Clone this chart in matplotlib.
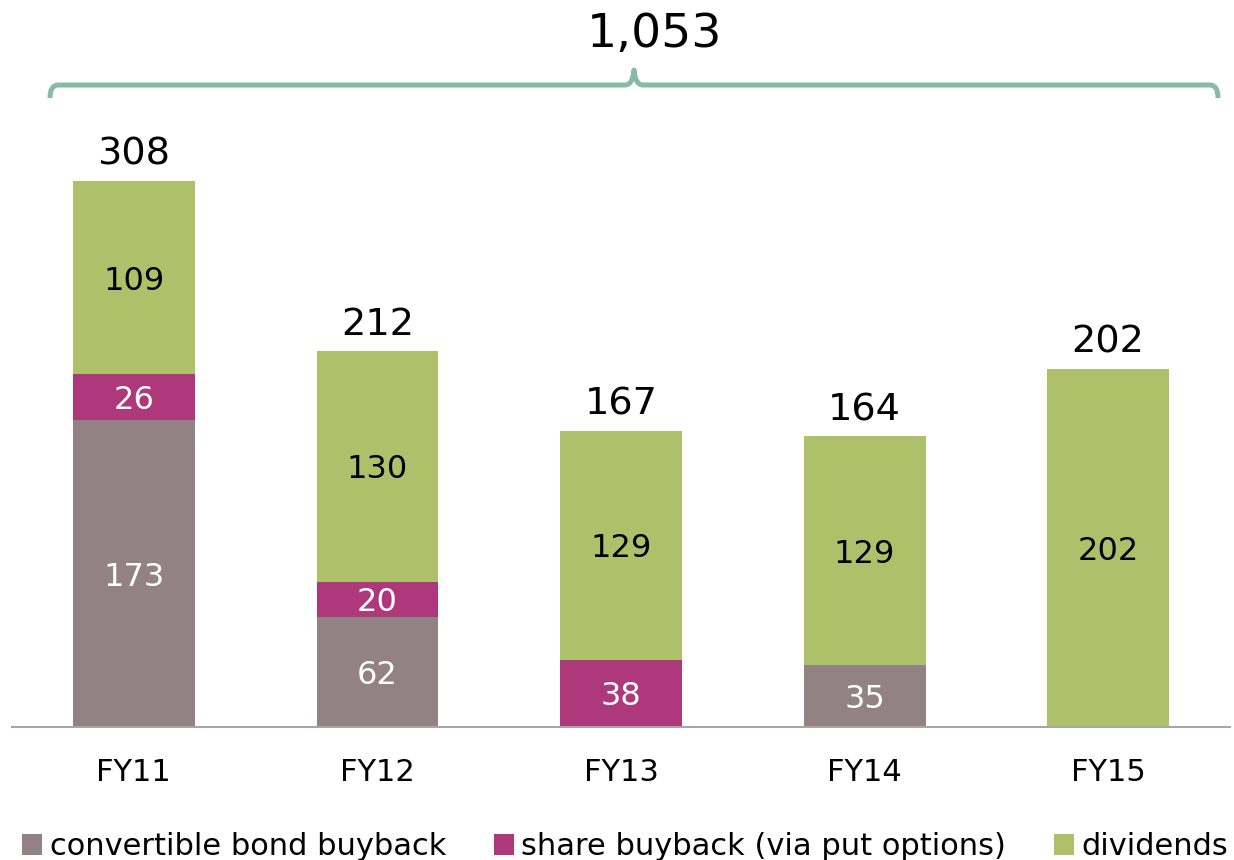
import matplotlib
matplotlib.use("Agg")
import matplotlib.pyplot as plt
from matplotlib.path import Path
from matplotlib.patches import PathPatch
import numpy as np

categories = ["FY11", "FY12", "FY13", "FY14", "FY15"]
convertible = [173, 62, 0, 35, 0]
share = [26, 20, 38, 0, 0]
dividends = [109, 130, 129, 129, 202]
grand_total_label = "1,053"
series_names = ["convertible bond buyback", "share buyback (via put options)", "dividends"]

colors = ["#938284", "#ad387b", "#afc06a"]
text_colors = ["white", "white", "black"]

plt.rcParams['font.family'] = ['DejaVu Sans']

W, H = 1234, 860
fig = plt.figure(figsize=(W / 100, H / 100), dpi=100)
ax = fig.add_axes([12 / W, 133 / H, 1218 / W, 727 / H])

x = np.arange(len(categories))
series = [convertible, share, dividends]
bottom = np.zeros(len(categories))
handles = []
for vals, col, tcol, name in zip(series, colors, text_colors, series_names):
    vals = np.array(vals, dtype=float)
    bars = ax.bar(x, vals, width=0.5, bottom=bottom, color=col, label=name)
    handles.append(bars)
    for xi, v, b in zip(x, vals, bottom):
        if v > 0:
            ax.text(xi, b + v / 2, f"{int(v)}", ha="center", va="center_baseline",
                    color=tcol, fontsize=23)
    bottom = bottom + vals

for xi, t in zip(x, bottom):
    ax.annotate(f"{int(t)}", (xi, t), xytext=(0, 11.5), textcoords="offset points",
                ha="center", va="baseline", fontsize=27.5, color="black")

ax.set_xlim(-0.5, len(categories) - 0.5)
ax.set_ylim(0, 410)
ax.set_xticks(x)
ax.set_xticklabels(categories, fontsize=22)
ax.tick_params(axis="x", length=0, pad=22)
ax.set_yticks([])
for s in ["left", "right", "top"]:
    ax.spines[s].set_visible(False)
ax.spines["bottom"].set_color("#a6a6a6")
ax.spines["bottom"].set_linewidth(1.5)
ax.patch.set_alpha(0)

# brace (figure pixel coordinates, y measured from top)
def P(px, py):
    return (px / W, 1 - py / H)

xl, xr, xc = 50, 1218, 634
yb, ye, yt = 85, 98, 70
verts = [P(xl, ye), P(xl, yb), P(xl + 8, yb),
         P(xc - 9, yb), P(xc - 1, yb), P(xc, yt),
         P(xc + 1, yb), P(xc + 9, yb),
         P(xr - 8, yb), P(xr, yb), P(xr, ye)]
codes = [Path.MOVETO, Path.CURVE3, Path.CURVE3,
         Path.LINETO, Path.CURVE3, Path.CURVE3,
         Path.CURVE3, Path.CURVE3,
         Path.LINETO, Path.CURVE3, Path.CURVE3]
brace = PathPatch(Path(verts, codes), transform=fig.transFigure, fill=False,
                  edgecolor="#88bba7", linewidth=3.6, capstyle="butt", joinstyle="round")
fig.add_artist(brace)
fig.text(655 / W, 1 - 47 / H, grand_total_label, ha="center", va="baseline", fontsize=34)

leg = fig.legend(handles=handles, labels=series_names, loc="lower left",
                 bbox_to_anchor=(22 / W, -1 / H), ncol=3, frameon=False, fontsize=22,
                 handlelength=0.66, handleheight=0.66, handletextpad=0.25,
                 columnspacing=1.55, borderaxespad=0, borderpad=0)

fig.savefig("out.png", dpi=100)
